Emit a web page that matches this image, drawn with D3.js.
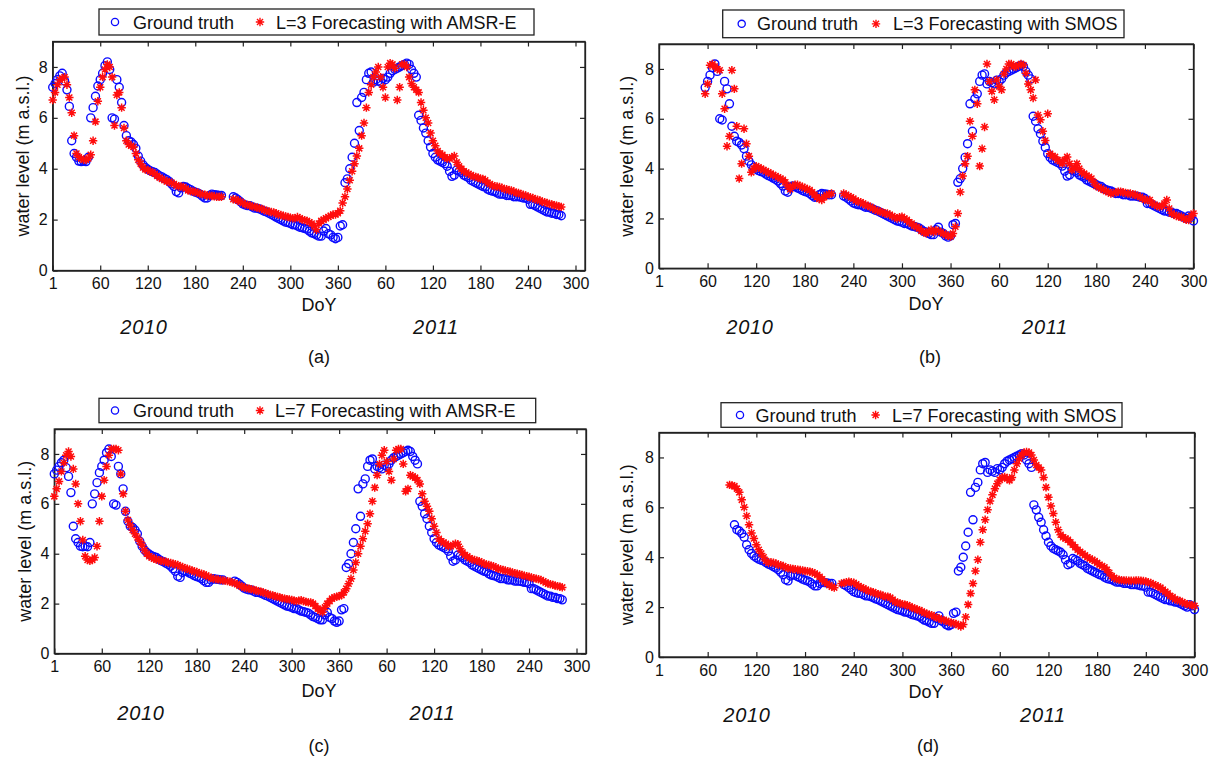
<!DOCTYPE html>
<html>
<head>
<meta charset="utf-8">
<script src="https://cdn.jsdelivr.net/npm/d3@7"></script>
<style>
  body { margin: 0; background: #fff; }
  text { font-family: "Liberation Sans", Arial, sans-serif; fill: #111; }
</style>
</head>
<body>
<script>
// samples every STEP days, day 0 = 1 Jan 2010 (index continues into 2011)
const STEP = 3

// ground truth water level (m a.s.l.), starts at day 0, null = no data
const truthStart = 0
const truthLevel = [
  7.2, 7.35, 7.5, 7.65, 7.75, 7.45, 7.1, 6.45, 5.1, 4.6,        // 0
  4.45, 4.3, 4.28, 4.3, 4.28, 4.45, 6.0, 6.4, 6.85, 7.25,        // 30
  7.5, 7.75, 8.05, 8.2, 7.9, 6.0, 5.95, 7.5, 7.2, 6.6,           // 60
  5.7, 5.3, 5.1, 5.05, 4.95, 4.8, 4.5, 4.3, 4.15, 4.05,          // 90
  3.98, 3.92, 3.88, 3.85, 3.78, 3.72, 3.68, 3.62, 3.57, 3.5,     // 120
  3.4, 3.3, 3.1, 3.05, 3.25, 3.3, 3.28, 3.22, 3.18, 3.12,        // 150
  3.08, 3.05, 3.0, 2.92, 2.85, 2.85, 2.95, 3.0, 2.98, 2.97,      // 180
  2.95, 2.95, null, null, null, null, 2.9, 2.85, 2.78, 2.7,      // 210
  2.62, 2.58, 2.55, 2.55, 2.5, 2.45, 2.45, 2.42, 2.38, 2.33,     // 240
  2.3, 2.25, 2.2, 2.15, 2.1, 2.05, 2.0, 1.95, 1.9, 1.88,         // 270
  1.85, 1.8, 1.8, 1.75, 1.7, 1.68, 1.65, 1.62, 1.55, 1.48,       // 300
  1.45, 1.4, 1.35, 1.35, 1.55, 1.65, 1.45, 1.4, 1.3, 1.25,       // 330
  1.3, 1.75, 1.8, 3.45, 3.6, 4.0, 4.45, 5.0, 6.6, 5.5,           // 360
  6.8, 7.0, 7.5, 7.75, 7.8, 7.4, 7.5, 7.45, 7.4, 7.55,           // 390
  7.5, 7.6, 7.75, 7.85, 7.9, 7.95, 8.0, 8.05, 8.1, 8.15,         // 420
  8.1, 7.9, 7.75, 7.6, 6.1, 5.9, 5.6, 5.4, 5.1, 4.85,            // 450
  4.6, 4.45, 4.35, 4.3, 4.25, 4.2, 4.1, 3.9, 3.7, 3.75,          // 480
  3.95, 3.9, 3.85, 3.75, 3.7, 3.65, 3.55, 3.5, 3.45, 3.4,        // 510
  3.35, 3.3, 3.28, 3.2, 3.15, 3.12, 3.1, 3.05, 3.0, 3.0,         // 540
  3.0, 2.95, 2.95, 2.95, 2.9, 2.9, 2.9, 2.88, 2.85, 2.85,        // 570
  2.8, 2.6, 2.6, 2.55, 2.5, 2.45, 2.4, 2.35, 2.3, 2.3,           // 600
  2.25, 2.25, 2.2, 2.2, 2.15, 2.1, 2.05, 2.0, 2.1, 2.05,         // 630
  1.9                                                            // 660
]

// L=3 forecast with AMSR-E
const amsrL3Start = 0
const amsrL3 = [
  6.7, 7.0, 7.3, 7.5, 7.55, 7.6, 7.3, 6.8, 6.2, 5.3,             // 0
  4.6, 4.45, 4.4, 4.35, 4.35, 4.4, 4.55, 5.1, 5.85, 6.65,        // 30
  7.2, 7.6, 7.9, 8.1, 8.0, 7.6, 5.7, 6.9, 7.0, 6.4,              // 60
  5.6, 5.1, 4.95, 4.9, 4.85, 4.6, 4.35, 4.2, 4.05, 3.97,         // 90
  3.95, 3.9, 3.85, 3.8, 3.72, 3.65, 3.6, 3.55, 3.5, 3.48,        // 120
  3.45, 3.4, 3.35, 3.3, 3.3, 3.28, 3.22, 3.15, 3.12, 3.1,        // 150
  3.1, 3.05, 3.02, 3.0, 2.98, 2.95, 2.95, 2.93, 2.92, 2.9,       // 180
  2.9, 2.9, null, null, null, null, 2.8, 2.78, 2.75, 2.7,        // 210
  2.65, 2.6, 2.58, 2.55, 2.52, 2.5, 2.47, 2.45, 2.42, 2.38,      // 240
  2.35, 2.32, 2.3, 2.28, 2.25, 2.2, 2.18, 2.15, 2.12, 2.1,       // 270
  2.08, 2.05, 2.05, 2.1, 2.05, 2.0, 1.98, 1.95, 1.9, 1.85,       // 300
  1.75, 1.6, 1.85, 1.95, 2.0, 2.05, 2.1, 2.15, 2.2, 2.2,         // 330
  2.25, 2.35, 2.65, 2.9, 3.2, 3.55, 3.9, 4.2, 4.5, 4.8,          // 360
  5.3, 5.8, 6.4, 7.0, 7.3, 7.6, 7.8, 8.0, 7.6, 7.2,              // 390
  6.8, 8.0, 8.15, 8.1, 7.95, 6.7, 7.2, 8.1, 8.1, 8.0,            // 420
  7.6, 7.35, 7.2, 7.1, 7.0, 6.6, 6.3, 6.0, 5.8, 5.4,             // 450
  5.1, 4.9, 4.7, 4.6, 4.55, 4.45, 4.4, 4.4, 4.45, 4.5,           // 480
  4.25, 4.1, 4.0, 3.9, 3.85, 3.8, 3.75, 3.7, 3.68, 3.65,         // 510
  3.6, 3.6, 3.55, 3.45, 3.4, 3.35, 3.3, 3.3, 3.28, 3.25,         // 540
  3.2, 3.2, 3.15, 3.15, 3.1, 3.05, 3.05, 3.0, 2.98, 2.95,        // 570
  2.9, 2.88, 2.85, 2.8, 2.78, 2.75, 2.7, 2.68, 2.65, 2.62,       // 600
  2.6, 2.57, 2.55, 2.52, 2.5                                     // 630
]

// L=7 forecast with AMSR-E
const amsrL7Start = 0
const amsrL7 = [
  6.3, 6.6, 6.9, 7.3, 7.65, 7.95, 8.1, 7.9, 7.4, 6.8,            // 0
  6.0, 5.3, 4.55, 3.9, 3.75, 3.72, 3.75, 3.85, 4.3, 5.3,         // 30
  6.3, 6.95, 7.5, 7.95, 8.2, 8.2, 8.2, 8.15, 7.2, 6.4,           // 60
  5.7, 5.35, 5.15, 4.95, 4.8, 4.65, 4.5, 4.35, 4.15, 4.0,        // 90
  3.9, 3.85, 3.8, 3.77, 3.74, 3.72, 3.7, 3.68, 3.65, 3.63,       // 120
  3.6, 3.58, 3.55, 3.5, 3.47, 3.42, 3.4, 3.36, 3.33, 3.3,        // 150
  3.27, 3.22, 3.2, 3.17, 3.13, 3.08, 3.03, 3.0, 2.98, 2.97,      // 180
  2.95, 2.93, 2.92, 2.9, 2.88, 2.85, 2.82, 2.78, 2.72, 2.68,     // 210
  2.65, 2.62, 2.6, 2.58, 2.55, 2.53, 2.5, 2.48, 2.45, 2.42,      // 240
  2.38, 2.35, 2.33, 2.3, 2.27, 2.25, 2.22, 2.2, 2.18, 2.17,      // 270
  2.15, 2.12, 2.1, 2.12, 2.14, 2.1, 2.07, 2.05, 2.05, 2.0,       // 300
  1.9, 1.8, 1.7, 1.65, 1.85, 2.0, 2.1, 2.2, 2.25, 2.28,          // 330
  2.3, 2.34, 2.45, 2.6, 2.8, 3.0, 3.35, 3.65, 4.0, 4.3,          // 360
  4.6, 4.9, 5.2, 5.6, 6.1, 6.65, 7.15, 7.6, 7.95, 8.15,          // 390
  7.7, 7.3, 6.95, 7.8, 8.15, 8.2, 8.2, 7.6, 6.5, 6.6,            // 420
  7.15, 7.1, 7.05, 6.95, 6.8, 6.4, 6.1, 5.9, 5.7, 5.4,           // 450
  5.1, 4.85, 4.6, 4.5, 4.45, 4.4, 4.3, 4.3, 4.35, 4.4,           // 480
  4.38, 4.2, 4.05, 3.95, 3.9, 3.82, 3.78, 3.75, 3.72, 3.7,       // 510
  3.65, 3.6, 3.57, 3.55, 3.52, 3.5, 3.45, 3.4, 3.38, 3.35,       // 540
  3.33, 3.3, 3.28, 3.25, 3.22, 3.2, 3.18, 3.15, 3.12, 3.1,       // 570
  3.08, 3.05, 3.02, 3.0, 2.98, 2.95, 2.9, 2.85, 2.8, 2.78,       // 600
  2.75, 2.72, 2.7, 2.68, 2.65                                    // 630
]

// L=3 forecast with SMOS
const smosL3Start = 57
const smosL3 = [
  7.0, 7.4, 8.15, 8.2, 8.1, 8.0, 7.95, 7.0, 6.4, 4.9,            // 57
  5.3, 7.95, 7.2, 5.7, 3.6, 4.2, 5.6, 5.0, 4.5, 3.85,            // 87
  4.0, 4.1, 4.05, 4.0, 3.95, 3.9, 3.85, 3.8, 3.75, 3.7,          // 117
  3.65, 3.6, 3.55, 3.45, 3.3, 3.17, 3.3, 3.35, 3.35, 3.3,        // 147
  3.27, 3.22, 3.18, 3.14, 3.05, 2.95, 2.85, 2.78, 2.74, 2.85,    // 177
  2.94, 2.97, 3.0, null, null, null, null, 3.0, 2.95, 2.9,       // 207
  2.85, 2.8, 2.72, 2.68, 2.65, 2.6, 2.55, 2.5, 2.47, 2.4,        // 237
  2.35, 2.3, 2.28, 2.25, 2.2, 2.2, 2.15, 2.1, 2.05, 2.0,         // 267
  2.05, 2.07, 2.0, 1.95, 1.85, 1.8, 1.7, 1.67, 1.6, 1.5,         // 297
  1.45, 1.4, 1.5, 1.55, 1.45, 1.53, 1.5, 1.45, 1.4, 1.35,        // 327
  1.3, 1.27, 1.4, 1.67, 2.2, 3.06, 3.7, 4.2, 4.5, 5.9,           // 357
  5.3, 7.16, 6.6, 4.1, 4.8, 5.67, 8.2, 7.5, 7.1, 6.76,           // 387
  7.56, 7.3, 7.16, 7.8, 8.0, 8.2, 8.2, 8.1, 8.1, 8.15,           // 417
  8.2, 8.16, 7.83, 7.4, 7.16, 6.83, 7.56, 6.15, 5.96, 5.5,       // 447
  5.13, 6.2, 4.6, 4.5, 4.47, 4.35, 4.3, 4.2, 4.35, 4.47,         // 477
  4.2, 3.94, 4.05, 4.2, 4.0, 3.85, 3.8, 3.72, 3.67, 3.6,         // 507
  3.45, 3.3, 3.25, 3.2, 3.14, 3.1, 3.05, 3.0, 3.02, 3.05,        // 537
  3.07, 3.07, 3.05, 3.02, 3.0, 3.0, 2.97, 2.95, 2.9, 2.87,       // 567
  2.8, 2.75, 2.74, 2.74, 2.6, 2.55, 2.5, 2.47, 2.5, 2.6,         // 597
  2.74, 2.4, 2.2, 2.15, 2.1, 2.07, 2.07, 2.0, 1.95, 1.94,        // 627
  2.1, 2.2                                                       // 657
]

// L=7 forecast with SMOS
const smosL7Start = 87
const smosL7 = [
  6.9, 6.88, 6.85, 6.75, 6.6, 6.3, 6.0, 5.65, 5.3, 4.97,         // 87
  4.75, 4.5, 4.3, 4.15, 4.0, 3.85, 3.78, 3.8, 3.78, 3.75,        // 117
  3.7, 3.68, 3.65, 3.6, 3.56, 3.55, 3.53, 3.52, 3.5, 3.49,       // 147
  3.47, 3.45, 3.44, 3.42, 3.4, 3.35, 3.3, 3.22, 3.12, 3.02,      // 177
  2.95, 2.88, 2.82, 2.78, null, null, 2.95, 2.97, 3.0, 3.02,     // 207
  3.0, 2.98, 2.92, 2.85, 2.8, 2.75, 2.7, 2.65, 2.62, 2.6,        // 237
  2.55, 2.52, 2.5, 2.45, 2.42, 2.42, 2.38, 2.3, 2.22, 2.18,      // 267
  2.15, 2.12, 2.1, 2.08, 2.03, 1.98, 1.95, 1.9, 1.88, 1.82,      // 297
  1.78, 1.73, 1.7, 1.68, 1.62, 1.58, 1.55, 1.5, 1.48, 1.45,      // 327
  1.4, 1.38, 1.35, 1.32, 1.28, 1.22, 1.3, 1.6, 2.1, 2.55,        // 357
  2.95, 3.45, 3.9, 4.6, 5.1, 5.5, 5.9, 6.25, 6.5, 6.75,          // 387
  6.95, 7.1, 7.2, 7.22, 7.15, 7.08, 7.2, 7.5, 7.75, 7.95,        // 417
  8.1, 8.2, 8.22, 8.2, 8.1, 7.9, 7.7, 7.6, 7.5, 7.2,             // 447
  6.8, 6.4, 6.05, 5.75, 5.4, 5.1, 4.9, 4.8, 4.75, 4.7,           // 477
  4.6, 4.5, 4.4, 4.3, 4.22, 4.15, 4.08, 4.0, 3.95, 3.9,          // 507
  3.85, 3.78, 3.7, 3.65, 3.6, 3.5, 3.38, 3.25, 3.18, 3.12,       // 537
  3.1, 3.08, 3.07, 3.07, 3.06, 3.06, 3.06, 3.07, 3.07, 3.06,     // 567
  3.05, 3.03, 3.0, 2.97, 2.92, 2.88, 2.83, 2.78, 2.7, 2.62,      // 597
  2.55, 2.45, 2.4, 2.32, 2.28, 2.25, 2.2, 2.15, 2.12, 2.1,       // 627
  2.08, 2.05                                                     // 657
]

// axis ticks
const xTickDays = [0, 60, 120, 180, 240, 300, 360, 420, 480, 540, 600, 660]
const xTickLabels = ["1", "60", "120", "180", "240", "300", "360", "60", "120", "180", "240", "300"]
const yTicks = [0, 2, 4, 6, 8]
const yearLabels = ["2010", "2011"]
const truthLabel = "Ground truth"

const toPoints = (values, start) => values
    .map((v, i) => ({ day: start + STEP * i, level: v }))
    .filter(d => d.level !== null)

const truthPoints = toPoints(truthLevel, truthStart)

// panel layout (pixels)
const PANELS = [
  { tag: "(a)", forecast: toPoints(amsrL3, amsrL3Start), fLabel: "L=3 Forecasting with AMSR-E",
    truthFrom: 0, truthTo: 642, xMax: 672,
    left: 52.7, right: 585, top: 41.5, bottom: 270.5,
    legend: [99, 534, 9, 35], legendX: [115, 133, 260, 276], yLabelX: 22.5,
    doy: [319, 304], years: [[144, 327], [436, 327]], tagPos: [319, 357] },
  { tag: "(b)", forecast: toPoints(smosL3, smosL3Start), fLabel: "L=3 Forecasting with SMOS",
    truthFrom: 57, truthTo: 660, xMax: 660,
    left: 659, right: 1193.5, top: 44, bottom: 268.3,
    legend: [722.7, 1124, 10, 37.7], legendX: [741.7, 757, 876, 893], yLabelX: 627,
    doy: [926, 303], years: [[750, 327], [1045, 327]], tagPos: [930, 357] },
  { tag: "(c)", forecast: toPoints(amsrL7, amsrL7Start), fLabel: "L=7 Forecasting with AMSR-E",
    truthFrom: 0, truthTo: 642, xMax: 672,
    left: 54.3, right: 586, top: 429, bottom: 653.5,
    legend: [99, 535.7, 398.3, 422.7], legendX: [115, 133, 260, 275], yLabelX: 24.3,
    doy: [319, 690], years: [[141, 713], [432.5, 713]], tagPos: [319, 745.7] },
  { tag: "(d)", forecast: toPoints(smosL7, smosL7Start), fLabel: "L=7 Forecasting with SMOS",
    truthFrom: 93, truthTo: 660, xMax: 660,
    left: 659, right: 1194.5, top: 432.5, bottom: 657,
    legend: [721, 1122, 402.7, 427.3], legendX: [740, 755.5, 875.6, 892], yLabelX: 627,
    doy: [926, 691.7], years: [[747, 715], [1043, 715]], tagPos: [928, 745.7] }
]

const BLUE = "#0a0aff"
const RED = "#ff0d0d"
const AXIS = "#222"
const STAR = "M-4.2,0H4.2M0,-4.2V4.2M-3,-3L3,3M-3,3L3,-3"
const CIRCLE_R = 4

const svg = d3.select("body").append("svg")
    .attr("width", 1214)
    .attr("height", 759)

function drawPanel(p) {
  const g = svg.append("g")
  const x = d3.scaleLinear().domain([0, p.xMax]).range([p.left, p.right])
  const y = d3.scaleLinear().domain([0, 9]).range([p.bottom, p.top])

  // box
  g.append("rect")
    .attr("x", p.left).attr("y", p.top)
    .attr("width", p.right - p.left).attr("height", p.bottom - p.top)
    .attr("fill", "none").attr("stroke", AXIS).attr("stroke-width", 1.3)

  // axes, ticks point inwards on all four sides
  g.append("g")
    .attr("transform", `translate(0, ${p.bottom})`)
    .call(d3.axisBottom(x).tickValues(xTickDays)
      .tickFormat((d, i) => xTickLabels[i]).tickSizeInner(-5).tickSizeOuter(0).tickPadding(7.5))
  g.append("g")
    .attr("transform", `translate(0, ${p.top})`)
    .call(d3.axisTop(x).tickValues(xTickDays).tickFormat("").tickSizeInner(-5).tickSizeOuter(0))
  g.append("g")
    .attr("transform", `translate(${p.left}, 0)`)
    .call(d3.axisLeft(y).tickValues(yTicks).tickSizeInner(-5).tickSizeOuter(0).tickPadding(5))
  g.append("g")
    .attr("transform", `translate(${p.right}, 0)`)
    .call(d3.axisRight(y).tickValues(yTicks).tickFormat("").tickSizeInner(-5).tickSizeOuter(0))

  g.selectAll(".domain").attr("stroke", AXIS).attr("stroke-width", 1.3)
  g.selectAll(".tick line").attr("stroke", AXIS).attr("stroke-width", 1.2)
  g.selectAll(".tick text").attr("font-size", "16px").attr("fill", "#111")
    .style("font-family", "'Liberation Sans', Arial, sans-serif")

  // ground truth
  const truth = truthPoints.filter(d => d.day >= p.truthFrom && d.day <= p.truthTo)
  g.selectAll("circle.truth")
    .data(truth)
    .enter().append("circle")
    .attr("class", "truth")
    .attr("cx", d => x(d.day))
    .attr("cy", d => y(d.level))
    .attr("r", CIRCLE_R)
    .attr("fill", "none")
    .attr("stroke", BLUE)
    .attr("stroke-width", 1.4)

  // forecast
  g.selectAll("path.fc")
    .data(p.forecast)
    .enter().append("path")
    .attr("class", "fc")
    .attr("d", STAR)
    .attr("transform", d => `translate(${x(d.day)}, ${y(d.level)})`)
    .attr("fill", "none")
    .attr("stroke", RED)
    .attr("stroke-width", 1.5)

  // legend
  const [lx0, lx1, ly0, ly1] = p.legend
  const cy = (ly0 + ly1) / 2
  g.append("rect")
    .attr("x", lx0).attr("y", ly0)
    .attr("width", lx1 - lx0).attr("height", ly1 - ly0)
    .attr("fill", "#fff").attr("stroke", AXIS).attr("stroke-width", 1.3)
  g.append("circle")
    .attr("cx", p.legendX[0]).attr("cy", cy).attr("r", 3.6)
    .attr("fill", "none").attr("stroke", BLUE).attr("stroke-width", 1.3)
  g.append("text")
    .attr("x", p.legendX[1]).attr("y", cy + 6.5)
    .attr("font-size", "18px")
    .text(truthLabel)
  g.append("path")
    .attr("d", STAR)
    .attr("transform", `translate(${p.legendX[2]}, ${cy})`)
    .attr("fill", "none").attr("stroke", RED).attr("stroke-width", 1.4)
  g.append("text")
    .attr("x", p.legendX[3]).attr("y", cy + 6.5)
    .attr("font-size", "18px")
    .text(p.fLabel)

  // labels
  g.append("text")
    .attr("transform", `translate(${p.yLabelX + 6.3}, ${(p.top + p.bottom) / 2}) rotate(-90)`)
    .attr("text-anchor", "middle")
    .attr("font-size", "18px")
    .text("water level (m a.s.l.)")
  g.append("text")
    .attr("x", p.doy[0]).attr("y", p.doy[1] + 6.5)
    .attr("text-anchor", "middle")
    .attr("font-size", "18px")
    .text("DoY")
  p.years.forEach((pos, i) => {
    g.append("text")
      .attr("x", pos[0]).attr("y", pos[1] + 7)
      .attr("text-anchor", "middle")
      .attr("font-size", "20px")
      .attr("font-style", "italic")
      .attr("letter-spacing", "0.7px")
      .text(yearLabels[i])
  })
  g.append("text")
    .attr("x", p.tagPos[0]).attr("y", p.tagPos[1] + 6)
    .attr("text-anchor", "middle")
    .attr("font-size", "18px")
    .text(p.tag)
}

PANELS.forEach(drawPanel)
</script>
</body>
</html>
